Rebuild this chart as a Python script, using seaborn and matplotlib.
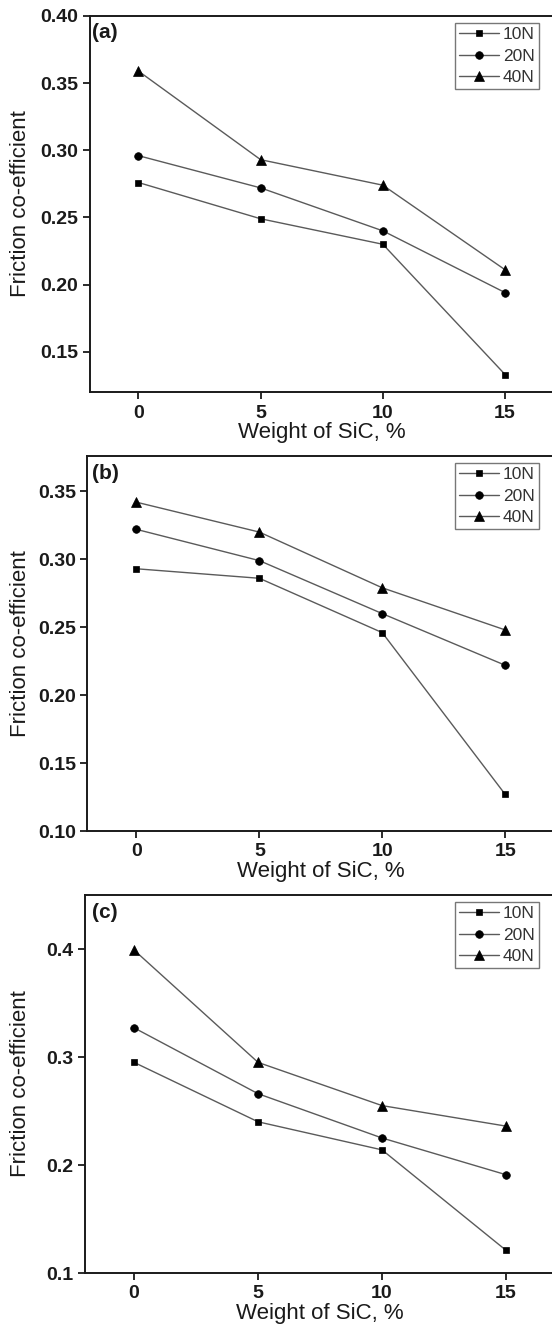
import numpy as np
import pandas as pd
import matplotlib
matplotlib.use("Agg")
import matplotlib.pyplot as plt
import seaborn as sns

# ---- data ----
sic_wt = [0, 5, 10, 15]
loads = ["10N", "20N", "40N"]

a_10N = [0.276, 0.249, 0.230, 0.133]
a_20N = [0.296, 0.272, 0.240, 0.194]
a_40N = [0.359, 0.293, 0.274, 0.211]

b_10N = [0.293, 0.286, 0.246, 0.127]
b_20N = [0.322, 0.299, 0.260, 0.222]
b_40N = [0.342, 0.320, 0.279, 0.248]

c_10N = [0.295, 0.240, 0.214, 0.121]
c_20N = [0.327, 0.266, 0.225, 0.191]
c_40N = [0.399, 0.295, 0.255, 0.236]

panel_labels = ["(a)", "(b)", "(c)"]
y_ticks_a = [0.15, 0.20, 0.25, 0.30, 0.35, 0.40]
y_ticks_b = [0.10, 0.15, 0.20, 0.25, 0.30, 0.35]
y_ticks_c = [0.1, 0.2, 0.3, 0.4]
x_ticks = [0, 5, 10, 15]

sns.set_style("ticks")
plt.rcParams["font.family"] = ["Liberation Sans", "DejaVu Sans"]

W, H = 552, 1327
fig = plt.figure(figsize=(W / 100, H / 100), dpi=100)

# axes boxes in pixels: left, right, top, bottom
boxes = [
    (89.5, 554.0, 16, 392),
    (87.3, 554.3, 456, 831),
    (84.5, 555.6, 895, 1273),
]
panels = [
    ([a_10N, a_20N, a_40N], (0.12, 0.40), y_ticks_a, "{:.2f}"),
    ([b_10N, b_20N, b_40N], (0.10, 0.376), y_ticks_b, "{:.2f}"),
    ([c_10N, c_20N, c_40N], (0.10, 0.45), y_ticks_c, "{:.1f}"),
]
markers = ["s", "o", "^"]
msizes = [5.0, 5.5, 6.5]

for (l, r, t, b), (series, ylim, yt, fmt), plab in zip(boxes, panels, panel_labels):
    ax = fig.add_axes([l / W, (H - b) / H, (r - l) / W, (b - t) / H])
    for vals, name, mk, ms in zip(series, loads, markers, msizes):
        df = pd.DataFrame({"wt": sic_wt, "mu": vals})
        sns.lineplot(data=df, x="wt", y="mu", ax=ax, color="#5a5a5a", lw=1.0,
                     marker=mk, ms=ms, markerfacecolor="black",
                     markeredgecolor="black", markeredgewidth=0.5,
                     label=name, legend=False)
    ax.set_xlim(-2, 17)
    ax.set_ylim(*ylim)
    ax.set_xticks(x_ticks)
    ax.set_xticklabels([str(v) for v in x_ticks])
    ax.set_yticks(yt)
    ax.set_yticklabels([fmt.format(v) for v in yt])
    for lab in ax.get_xticklabels() + ax.get_yticklabels():
        lab.set_fontweight("bold")
        lab.set_fontsize(14)
        lab.set_color("#1a1a1a")
    ax.tick_params(direction="out", length=5, width=1.3, pad=3, color="#1a1a1a")
    ax.tick_params(axis="x", pad=4)
    for sp in ax.spines.values():
        sp.set_linewidth(1.4)
        sp.set_color("#1a1a1a")
    ax.set_xlabel("Weight of SiC, %", fontsize=16, labelpad=0.5, color="#1a1a1a")
    ax.set_ylabel("Friction co-efficient", fontsize=16, color="#1a1a1a")
    ax.yaxis.set_label_coords((31 - l) / (r - l), 0.5)
    ax.text((92 - l) / (r - l), 1 - (33 - 16) / (b - t), plab, transform=ax.transAxes,
            fontsize=15, fontweight="bold", va="center", ha="left", color="#1a1a1a")
    leg = ax.legend(loc="upper left", bbox_to_anchor=((455 - l) / (r - l), 1 - (23 - 16) / (b - t)),
                    fontsize=12.5, frameon=True, fancybox=False, handlelength=2.3,
                    handletextpad=0.2, borderpad=0.25, labelspacing=0.35,
                    borderaxespad=0.0)
    leg.get_frame().set_edgecolor("#555555")
    leg.get_frame().set_linewidth(1.0)
    for txt in leg.get_texts():
        txt.set_color("#333333")

fig.savefig("out.png", dpi=100)
